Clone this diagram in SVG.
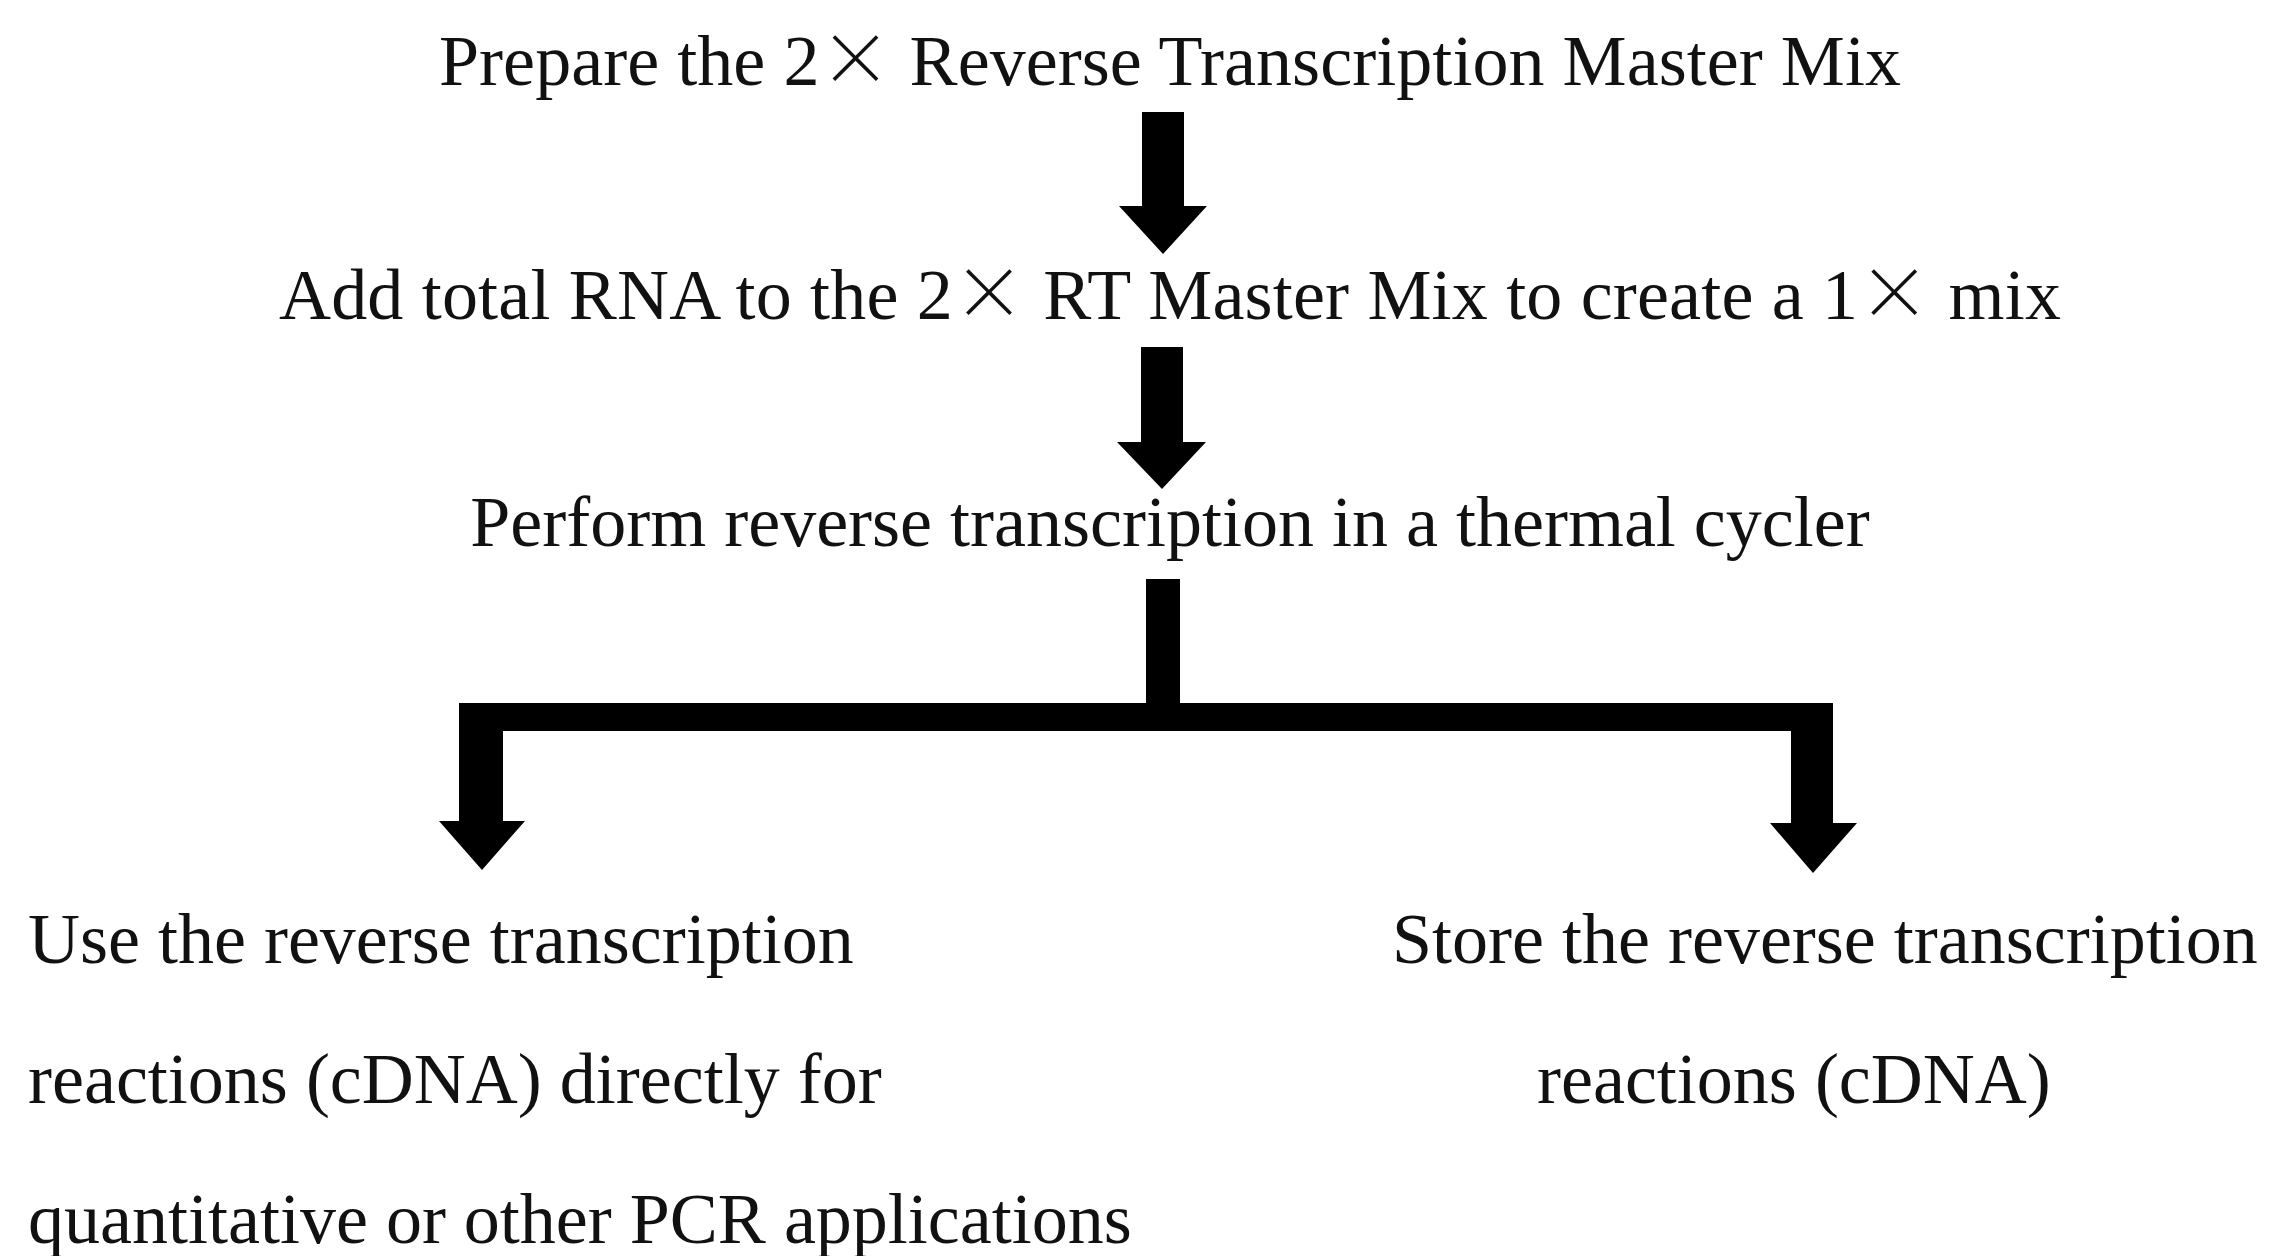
<svg xmlns="http://www.w3.org/2000/svg" width="2269" height="1256" viewBox="0 0 2269 1256">
  <style>
    .lbl { font-family: "Liberation Serif", "Times New Roman", serif; font-size: 72px; fill: #111; }
    .mid { text-anchor: middle; }
    .x { font-family: "Noto Sans CJK SC", "Liberation Serif", serif; font-weight: 300; }
    .arrow { fill: #000; stroke: none; }
  </style>
  <rect width="2269" height="1256" fill="#fff"/>

  <g id="step1">
    <text class="lbl mid" x="1170" y="85" textLength="1462" lengthAdjust="spacing">Prepare the 2<tspan class="x">×</tspan> Reverse Transcription Master Mix</text>
  </g>
  <g id="step2">
    <text class="lbl mid" x="1170" y="319" textLength="1782" lengthAdjust="spacing">Add total RNA to the 2<tspan class="x">×</tspan> RT Master Mix to create a 1<tspan class="x">×</tspan> mix</text>
  </g>
  <g id="step3">
    <text class="lbl mid" x="1170" y="546">Perform reverse transcription in a thermal cycler</text>
  </g>
  <g id="use-cdna">
    <text class="lbl" x="28" y="963">Use the reverse transcription</text>
    <text class="lbl" x="28" y="1103">reactions (cDNA) directly for</text>
    <text class="lbl" x="28" y="1243">quantitative or other PCR applications</text>
  </g>
  <g id="store-cdna">
    <text class="lbl" x="1392" y="963">Store the reverse transcription</text>
    <text class="lbl" x="1537" y="1103">reactions (cDNA)</text>
  </g>

  <g id="connectors">
    <!-- step1 -> step2 -->
    <polygon class="arrow" points="1142,112 1184,112 1184,206 1207,206 1163,254 1119,206 1142,206"/>
    <!-- step2 -> step3 -->
    <polygon class="arrow" points="1141,347 1183,347 1183,442 1206,442 1162,489 1117,442 1141,442"/>
    <!-- step3 split into two branches -->
    <rect class="arrow" x="1146" y="579" width="34" height="140"/>
    <rect class="arrow" x="459" y="703" width="1374" height="28"/>
    <polygon class="arrow" points="459,703 503,703 503,821 525,821 482,870 439,821 459,821"/>
    <polygon class="arrow" points="1791,703 1833,703 1833,823 1857,823 1813,873 1770,823 1791,823"/>
  </g>
</svg>
